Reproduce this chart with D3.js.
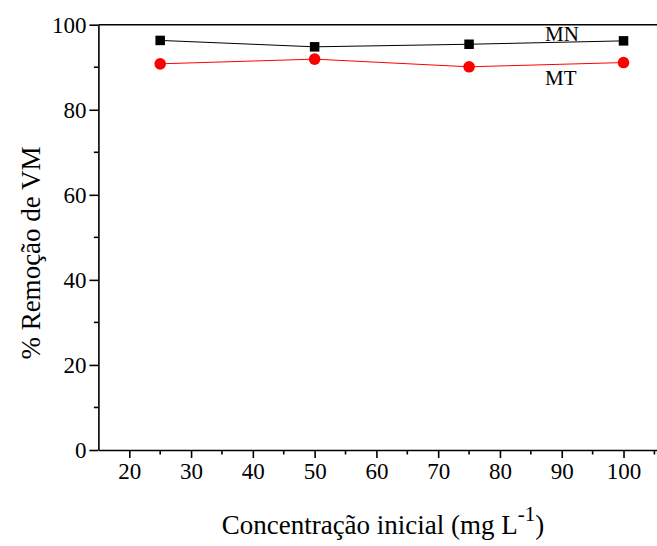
<!DOCTYPE html>
<html>
<head>
<meta charset="utf-8">
<script src="https://cdn.jsdelivr.net/npm/d3@7"></script>
<style>
  html, body { margin: 0; padding: 0; background: #fff; }
  svg { display: block; font-family: "Liberation Serif", "Times New Roman", serif; }
</style>
</head>
<body>
<svg id="chart" width="657" height="546"></svg>
<script>
// Initial concentration (mg L-1)
const concentrations = [25, 50, 75, 100];
// % removal of VM for each adsorbent
const removalMN = [96.3, 94.8, 95.4, 96.2];
const removalMT = [90.8, 91.9, 90.1, 91.1];
const xTicks = [20, 30, 40, 50, 60, 70, 80, 90, 100];
const yTicks = [0, 20, 40, 60, 80, 100];

const serif = "Liberation Serif, Times New Roman, serif";
const svg = d3.select("#chart");
const margin = { left: 98.4, top: 24.7, bottom: 450 };
const plotRight = 657.5;

const x = d3.scaleLinear().domain([15, 105.5]).range([margin.left, plotRight]);
const y = d3.scaleLinear().domain([0, 100]).range([margin.bottom, margin.top]);

// Frame: top border
svg.append("line")
  .attr("x1", margin.left).attr("x2", plotRight)
  .attr("y1", y(100)).attr("y2", y(100))
  .attr("stroke", "#000").attr("stroke-width", 1.6);

// X axis (major ticks labelled, minor ticks between)
const xAxis = d3.axisBottom(x).tickValues(xTicks).tickSize(8).tickSizeOuter(0).tickPadding(5);
const gx = svg.append("g").attr("transform", `translate(0,${margin.bottom})`).call(xAxis);
gx.attr("font-family", serif);
gx.selectAll("text").attr("font-size", 23).attr("fill", "#000");
gx.select(".domain").attr("stroke-width", 1.6);
gx.selectAll(".tick line").attr("stroke-width", 1.6);
svg.append("g").attr("transform", `translate(0,${margin.bottom})`)
  .selectAll("line").data(d3.range(25, 106, 10)).join("line")
  .attr("x1", d => x(d)).attr("x2", d => x(d))
  .attr("y1", 0).attr("y2", 4.5)
  .attr("stroke", "#000").attr("stroke-width", 1.6);

// Y axis
const yAxis = d3.axisLeft(y).tickValues(yTicks).tickSize(9).tickSizeOuter(0).tickPadding(3);
const gy = svg.append("g").attr("transform", `translate(${margin.left},0)`).call(yAxis);
gy.attr("font-family", serif);
gy.selectAll("text").attr("font-size", 23).attr("fill", "#000");
gy.select(".domain").attr("stroke-width", 1.6);
gy.selectAll(".tick line").attr("stroke-width", 1.6);
svg.append("g").attr("transform", `translate(${margin.left},0)`)
  .selectAll("line").data(d3.range(10, 100, 20)).join("line")
  .attr("x1", 0).attr("x2", -4.5)
  .attr("y1", d => y(d)).attr("y2", d => y(d))
  .attr("stroke", "#000").attr("stroke-width", 1.6);

// Series lines
const line = d3.line().x(d => x(d[0])).y(d => y(d[1]));
const mn = concentrations.map((c, i) => [c, removalMN[i]]);
const mt = concentrations.map((c, i) => [c, removalMT[i]]);

svg.append("path").datum(mn).attr("d", line)
  .attr("fill", "none").attr("stroke", "#000").attr("stroke-width", 1);
svg.append("path").datum(mt).attr("d", line)
  .attr("fill", "none").attr("stroke", "#ff0000").attr("stroke-width", 1);

// Markers
const sq = 9.5;
svg.append("g").selectAll("rect").data(mn).join("rect")
  .attr("x", d => x(d[0]) - sq / 2).attr("y", d => y(d[1]) - sq / 2)
  .attr("width", sq).attr("height", sq).attr("fill", "#000");
svg.append("g").selectAll("circle").data(mt).join("circle")
  .attr("cx", d => x(d[0])).attr("cy", d => y(d[1])).attr("r", 5.8)
  .attr("fill", "#ff0000");

// Series labels
svg.append("text").attr("x", 545).attr("y", 40.5)
  .attr("font-size", 21).text("MN");
svg.append("text").attr("x", 545).attr("y", 84.5)
  .attr("font-size", 21).text("MT");

// Axis titles
const xt = svg.append("text").attr("x", 383).attr("y", 534)
  .attr("text-anchor", "middle").attr("font-size", 27);
xt.append("tspan").text("Concentração inicial (mg L");
xt.append("tspan").attr("dy", -13).attr("font-size", 21).text("-1");
xt.append("tspan").attr("dy", 13).text(")");

svg.append("text")
  .attr("transform", "translate(40,253) rotate(-90)")
  .attr("text-anchor", "middle").attr("font-size", 27)
  .text("% Remoção de VM");
</script>
</body>
</html>
